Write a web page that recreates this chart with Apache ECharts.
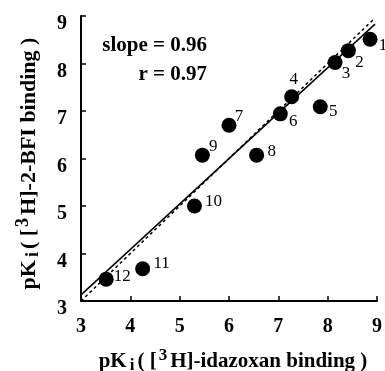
<!DOCTYPE html>
<html><head><meta charset="utf-8">
<script src="https://cdn.jsdelivr.net/npm/echarts@6/dist/echarts.min.js"></script>
<style>html,body{margin:0;padding:0;background:#fff}#c{width:385px;height:371px}</style>
</head><body><div id="c"></div>
<script>
const compoundLabels = ['1','2','3','4','5','6','7','8','9','10','11','12'];
const idazoxanPKi = [8.86, 8.42, 8.15, 7.27, 7.85, 7.04, 6.00, 6.56, 5.46, 5.30, 4.25, 3.51];
const bfiPKi      = [8.51, 8.27, 8.02, 7.30, 7.09, 6.94, 6.70, 6.07, 6.07, 5.00, 3.68, 3.46];
const regressionLine = [[3, 3.13], [8.96, 8.83]];
const identityLine = [[3, 3], [8.93, 8.93]];
const axisTicks = [3, 4, 5, 6, 7, 8, 9];

const labelOffsets = [[13,6],[11,12],[11,11],[2,-17],[13,5],[13,8],[10,-9],[15,-4],[11,-9],[19,-4],[19,-5],[16,-3]];
const serif = '"Liberation Serif", "DejaVu Serif", serif';

function titleRich(size) {
  return {
    b: { fontFamily: serif, fontWeight: 'bold', fontSize: size, color: '#000' },
    s: { fontFamily: serif, fontWeight: 'bold', fontSize: size - 4, color: '#000', padding: [9, 3, 0, 3] },
    sup: { fontFamily: serif, fontWeight: 'bold', fontSize: size - 4, color: '#000', padding: [0, 3, 12, 2] }
  };
}

const chart = echarts.init(document.getElementById('c'));
const pts = idazoxanPKi.map((x, i) => ({
  value: [x, bfiPKi[i]],
  label: { offset: labelOffsets[i] }
}));
chart.setOption({
  animation: false,
  grid: { left: 81, right: 8, top: 16, bottom: 70, containLabel: false, outerBoundsMode: 'none' },
  xAxis: {
    type: 'value', min: axisTicks[0], max: axisTicks[axisTicks.length-1], interval: 1,
    splitLine: { show: false },
    axisLine: { lineStyle: { color: '#000', width: 2 } },
    axisTick: { inside: true, length: 5, lineStyle: { color: '#000', width: 1.5 } },
    axisLabel: { color: '#000', fontFamily: serif, fontWeight: 'bold', fontSize: 20, margin: 16 },
    name: '{b|pK}{s|i}{b|( [}{sup|3}{b|H]-idazoxan binding )}',
    nameLocation: 'middle', nameGap: 46,
    nameTextStyle: { rich: titleRich(21), padding: [0, 0, 0, 8] }
  },
  yAxis: {
    type: 'value', min: axisTicks[0], max: axisTicks[axisTicks.length-1], interval: 1,
    splitLine: { show: false },
    axisLine: { lineStyle: { color: '#000', width: 2 } },
    axisTick: { inside: true, length: 5, lineStyle: { color: '#000', width: 1.5 } },
    axisLabel: { color: '#000', margin: 14, fontFamily: serif, fontWeight: 'bold', fontSize: 20,
      verticalAlign: 'top', lineHeight: 16 },
    name: '{b|pK}{s|i}{b|( [}{sup|3}{b|H]-2-BFI binding )}',
    nameLocation: 'middle', nameGap: 37, nameRotate: 90,
    nameTextStyle: { rich: titleRich(22), padding: [0, 10, 0, 0] }
  },
  graphic: [
    { type: 'text', right: 385 - 207, top: 35, style: { text: 'slope = 0.96', font: 'bold 21px ' + serif, fill: '#000', textAlign: 'right' } },
    { type: 'text', right: 385 - 207, top: 64, style: { text: 'r = 0.97', font: 'bold 21px ' + serif, fill: '#000', textAlign: 'right' } }
  ],
  series: [
    { type: 'line', data: identityLine, symbol: 'none', silent: true,
      lineStyle: { color: '#000', width: 1.5, type: [3, 3] } },
    { type: 'line', data: regressionLine, symbol: 'none', silent: true,
      lineStyle: { color: '#000', width: 1.5 } },
    { type: 'scatter', data: pts, symbol: 'circle', symbolSize: 15,
      itemStyle: { color: '#000', opacity: 1 },
      label: { show: true, position: 'inside', color: '#000', opacity: 1, fontFamily: serif, fontSize: 17,
        formatter: p => compoundLabels[p.dataIndex] } }
  ]
});
</script></body></html>
